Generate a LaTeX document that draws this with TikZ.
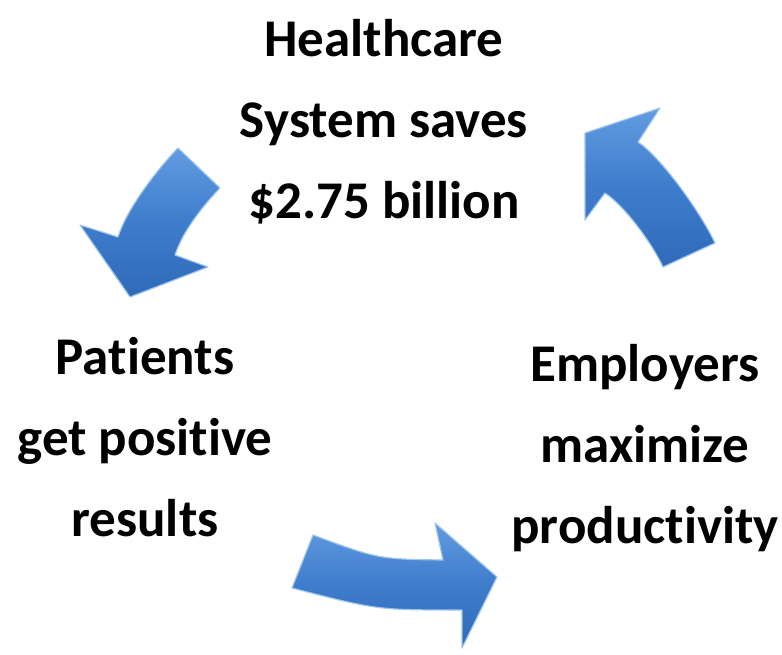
\documentclass[tikz,border=0pt]{standalone}
\usepackage{fontspec}
\setmainfont{Carlito}[Ligatures=NoCommon]
\definecolor{arrowmid}{RGB}{62,124,204}
\definecolor{arrowlight}{RGB}{98,156,224}
\definecolor{arrowdark}{RGB}{48,106,186}
\definecolor{arrowedge}{RGB}{160,198,238}
\tikzset{
  bigarrow/.style={top color=arrowlight, bottom color=arrowdark, middle color=arrowmid, draw=arrowedge, line width=1.2pt, line join=round},
  label/.style={font=\fontsize{53}{81}\selectfont\bfseries, align=center, inner sep=0pt, text=black}
}
\begin{document}
\begin{tikzpicture}[x=1pt,y=-1pt]
\useasboundingbox (0,0) rectangle (782,654);
% text blocks
\node[label] (health) at (384,122) {Healthcare\\System saves\\\$2.75 billion};
\node[label] (patients) at (145,437) {Patients\\get positive\\results};
\node[label] (employers) at (645,448) {Employers\\maximize\\productivity};
% arrow 1: top-left, pointing down-left
\path[bigarrow] (178,148) -- (220,188)
  .. controls (202.7,206) and (182.75,231.25) .. (175,255)
  -- (208,267) -- (130,297) -- (80,225) -- (118,237)
  .. controls (127,208.5) and (157,169.6) .. (178,148) -- cycle;
% arrow 2: top-right, pointing up-left
\path[bigarrow] (585,133) -- (660,108) -- (638,142)
  .. controls (662.9,158.8) and (702.4,215.7) .. (715,243)
  -- (663,267)
  .. controls (652.5,244.25) and (625.75,207) .. (605,193)
  -- (585,220) -- cycle;
% arrow 3: bottom, pointing right
\path[bigarrow] (313,535) .. controls (378,559) .. (443,560)
  -- (435,523) -- (497,577) -- (462,648) -- (462,610)
  .. controls (377,610) .. (292,588) -- cycle;
\end{tikzpicture}
\end{document}
